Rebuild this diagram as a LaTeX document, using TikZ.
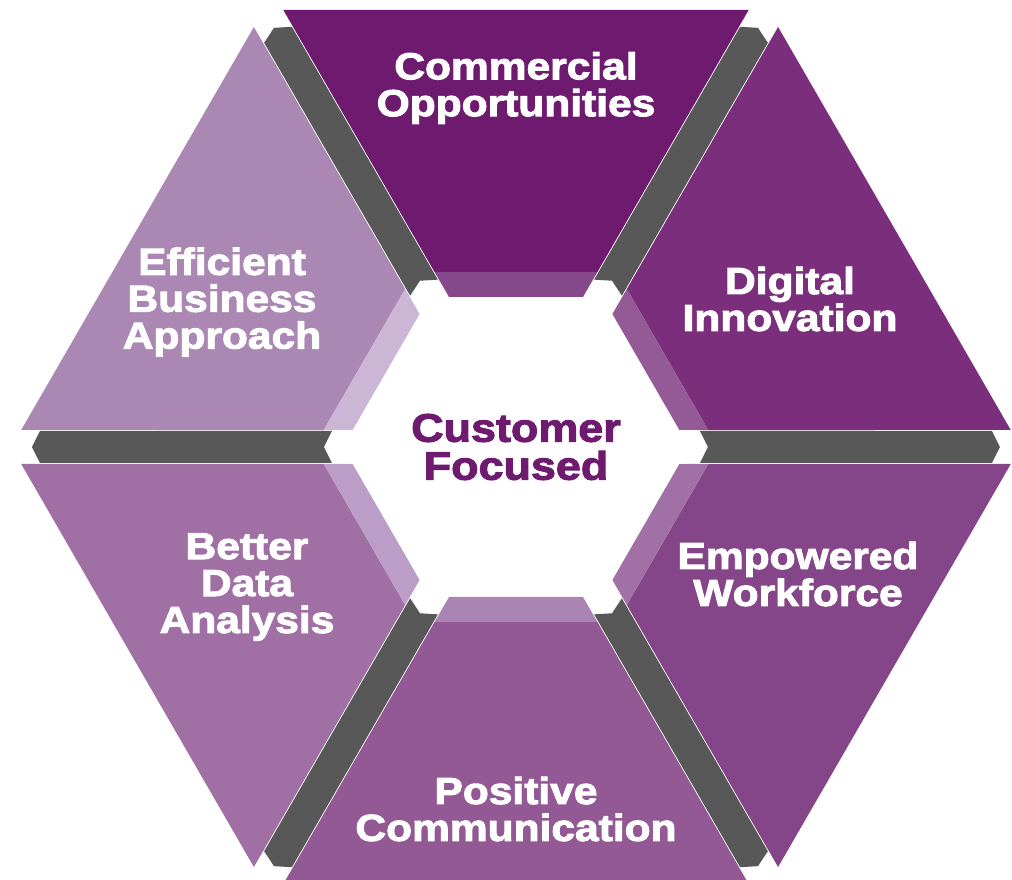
\documentclass[tikz,border=0pt]{standalone}
\usepackage{fontspec}
\newfontfamily\hexfont{Liberation Sans}[FakeStretch=1.13,FakeBold=2.6]
% segment colours, dark to light
\definecolor{segA}{RGB}{110,26,110}
\definecolor{segB}{RGB}{123,46,124}
\definecolor{segC}{RGB}{132,70,136}
\definecolor{segD}{RGB}{146,89,149}
\definecolor{segE}{RGB}{160,112,165}
\definecolor{segF}{RGB}{171,135,180}
% inner bands
\definecolor{bandA}{RGB}{133,72,137}
\definecolor{bandB}{RGB}{147,90,150}
\definecolor{bandC}{RGB}{160,112,166}
\definecolor{bandD}{RGB}{170,133,180}
\definecolor{bandE}{RGB}{187,157,199}
\definecolor{bandF}{RGB}{203,182,214}
\definecolor{sepgrey}{RGB}{88,88,88}
\tikzset{
  hexlabel/.style={text=white,align=center,inner sep=0pt,
    font=\hexfont\bfseries\fontsize{10.7}{10.5}\selectfont},
  hubtext/.style={text=segA,align=center,inner sep=0pt,
    font=\hexfont\bfseries\fontsize{11.3}{10.8}\selectfont}
}
\begin{document}
\begin{tikzpicture}
	\useasboundingbox (-5.16,-4.33) rectangle (4.96,4.47);
	\clip (-5.16,-4.33) rectangle (4.96,4.47);
	%grey separators
	\foreach \a in {0,60,...,300}
		\fill[sepgrey,rotate=\a] (1.84,.16) -- (4.76,.16) -- (4.84,0) -- (4.76,-.16) -- (1.84,-.16) -- (1.92,0) -- cycle;
	%segments with their inner band
	\foreach \a/\c/\b in {90/segA/bandA,30/segB/bandB,-30/segC/bandC,-90/segD/bandD,-150/segE/bandE,150/segF/bandF}{
		\fill[\c,rotate=\a] (1.75,.8141) -- (4.37,2.3267) -- (4.37,-2.3267) -- (1.75,-.8141) -- cycle;
		\fill[\b,rotate=\a] (1.50,.6697) -- (1.75,.8141) -- (1.75,-.8141) -- (1.50,-.6697) -- cycle;
	}
	%labels
	\node[hexlabel] (commercial) at (0,3.59) {Commercial\\Opportunities};
	\node[hexlabel] (digital) at (2.74,1.48) {Digital\\Innovation};
	\node[hexlabel] (empowered) at (2.82,-1.27) {Empowered\\Workforce};
	\node[hexlabel] (positive) at (0,-3.62) {Positive\\Communication};
	\node[hexlabel] (better) at (-2.69,-1.40) {Better\\Data\\Analysis};
	\node[hexlabel] (efficient) at (-2.94,1.45) {Efficient\\Business\\Approach};
	%hub
	\node[hubtext] (customer) at (0,0) {Customer\\Focused};
\end{tikzpicture}
\end{document}
